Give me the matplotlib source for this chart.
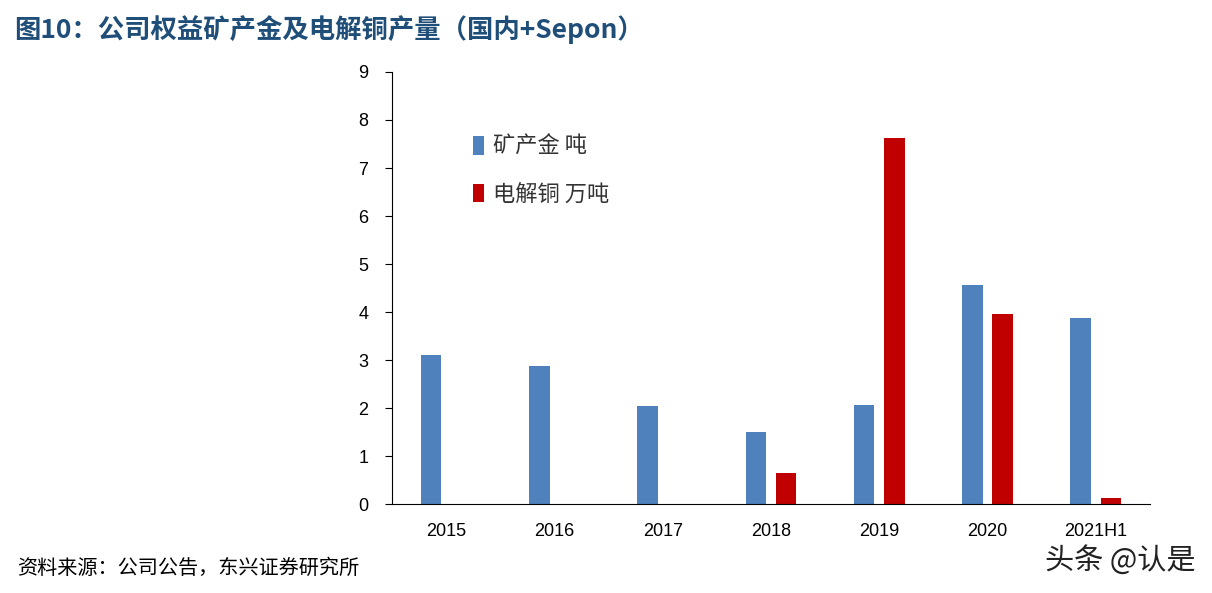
import matplotlib
matplotlib.use("Agg")
import matplotlib.pyplot as plt
import numpy as np

plt.rcParams['font.family'] = ['Noto Sans CJK SC', 'DejaVu Sans']

years = ["2015", "2016", "2017", "2018", "2019", "2020", "2021H1"]
gold = [3.10, 2.87, 2.04, 1.51, 2.06, 4.57, 3.88]      # 矿产金 吨
copper = [0, 0, 0, 0.65, 7.62, 3.95, 0.12]             # 电解铜 万吨

fig = plt.figure(figsize=(12.12, 5.93), dpi=100)
ax = fig.add_axes([0.3234, 0.150, 0.6254, 0.7286])

x = np.arange(len(years))
w = 0.19
ax.bar(x - 0.14, gold, width=w, color='#4F81BD', label='矿产金 吨')
ax.bar(x + 0.14, np.where(np.array(copper) > 0, copper, np.nan), width=w,
       color='#C00000', label='电解铜 万吨')

ax.set_xlim(-0.5, len(years) - 0.5)
ax.set_ylim(0, 9)
ax.set_yticks(range(10))
ax.set_xticks(x)
ax.set_xticklabels(years)
for lab in ax.get_xticklabels() + ax.get_yticklabels():
    lab.set_family(['Liberation Sans', 'Noto Sans CJK SC'])
    lab.set_fontsize(13)
ax.tick_params(axis='x', length=0, pad=14)
ax.tick_params(axis='y', direction='out', length=5, pad=12)
ax.spines['top'].set_visible(False)
ax.spines['right'].set_visible(False)
ax.spines['left'].set_color('black')
ax.spines['bottom'].set_color('black')

ax.legend(loc='upper left', bbox_to_anchor=(0.08, 0.9), frameon=False,
          fontsize=16, handlelength=0.5, handleheight=0.9, handletextpad=0.4,
          labelspacing=1.1, labelcolor='#333333')

fig.text(0.012, 0.95, '图10：公司权益矿产金及电解铜产量（国内+Sepon）',
         fontsize=19, fontweight='bold', color='#1F4E79', va='center')
fig.text(0.014, 0.042, '资料来源：公司公告，东兴证券研究所', fontsize=14.5,
         style='italic', color='black', va='center')
fig.text(0.986, 0.055, '头条 @认是', fontsize=21, color='#222222',
         ha='right', va='center')

fig.savefig('out.png', dpi=100)
